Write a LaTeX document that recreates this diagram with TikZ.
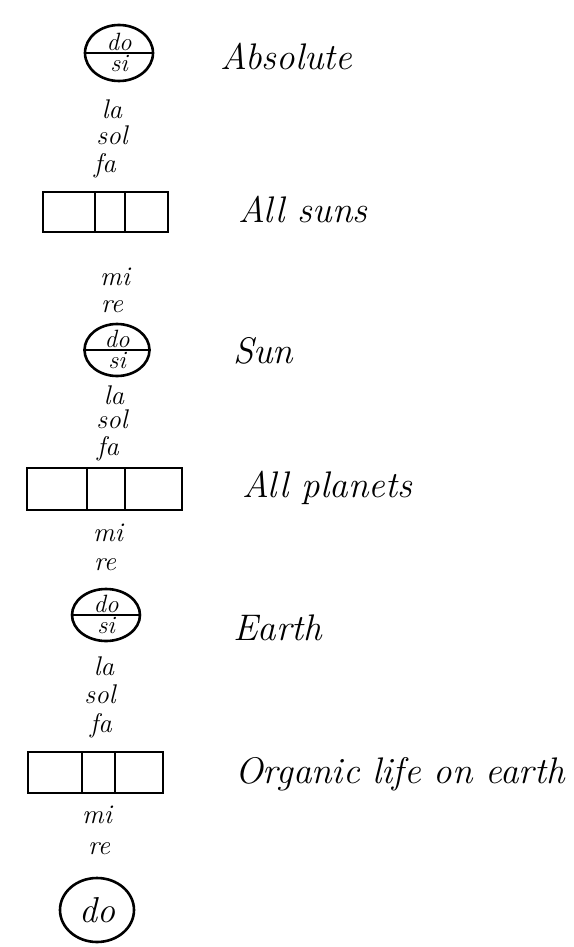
\documentclass[tikz,border=0pt]{standalone}
\usepackage{tikz}
\usetikzlibrary{shapes.geometric,positioning}

\begin{document}
\begin{tikzpicture}[x=1pt,y=-1pt,
      ring/.style={draw,ellipse,line width=2.6pt,inner sep=0pt},
      cell/.style={draw,rectangle,line width=2.6pt,inner sep=0pt,outer sep=0pt},
      syl/.style={font=\fontsize{27}{30}\selectfont\itshape,inner sep=0pt,anchor=base},
      pitch/.style={font=\fontsize{25}{27}\selectfont\itshape,inner sep=2.5pt},
      note/.style={font=\fontsize{37}{42}\selectfont\itshape,anchor=base west,inner sep=0pt}
    ]
    \useasboundingbox (0,0) rectangle (573,947);

    \node[ring,minimum width=68pt,minimum height=56pt] (absring) at (119,53) {};
    \draw[line width=2.6pt] (absring.west) -- (absring.east);
    \node[pitch,anchor=south] (absdo) at (absring.center) {do};
    \node[pitch,anchor=north] (abssi) at (absring.center) {si};

    \node[syl] (la1)  at (112,119) {la};
    \node[syl] (sol1) at (112,144) {sol};
    \node[syl] (fa1)  at (105,172) {fa};

    \node[cell,minimum width=52pt,minimum height=40pt] (suns1) at (69,212) {};
    \node[cell,minimum width=30pt,minimum height=40pt,right=0pt of suns1] (suns2) {};
    \node[cell,minimum width=43pt,minimum height=40pt,right=0pt of suns2] (suns3) {};

    \node[syl] (mi1) at (115,285) {mi};
    \node[syl] (re1) at (112,312) {re};

    \node[ring,minimum width=65pt,minimum height=52pt] (sunring) at (117,350) {};
    \draw[line width=2.6pt] (sunring.west) -- (sunring.east);
    \node[pitch,anchor=south] (sundo) at (sunring.center) {do};
    \node[pitch,anchor=north] (sunsi) at (sunring.center) {si};

    \node[syl] (la2)  at (114,404) {la};
    \node[syl] (sol2) at (112,428) {sol};
    \node[syl] (fa2)  at (108,455) {fa};

    \node[cell,minimum width=60pt,minimum height=42pt] (planets1) at (57,489) {};
    \node[cell,minimum width=38pt,minimum height=42pt,right=0pt of planets1] (planets2) {};
    \node[cell,minimum width=57pt,minimum height=42pt,right=0pt of planets2] (planets3) {};

    \node[syl] (mi2) at (108,541) {mi};
    \node[syl] (re2) at (105,570) {re};

    \node[ring,minimum width=68pt,minimum height=52pt] (earthring) at (106,615) {};
    \draw[line width=2.6pt] (earthring.west) -- (earthring.east);
    \node[pitch,anchor=south] (earthdo) at (earthring.center) {do};
    \node[pitch,anchor=north] (earthsi) at (earthring.center) {si};

    \node[syl] (la3)  at (104,675) {la};
    \node[syl] (sol3) at (100,703) {sol};
    \node[syl] (fa3)  at (101,732) {fa};

    \node[cell,minimum width=54pt,minimum height=41pt] (life1) at (55,772.5) {};
    \node[cell,minimum width=33pt,minimum height=41pt,right=0pt of life1] (life2) {};
    \node[cell,minimum width=48pt,minimum height=41pt,right=0pt of life2] (life3) {};

    \node[syl] (mi3) at (97,823) {mi};
    \node[syl] (re3) at (99,854) {re};

    \node[ring,minimum width=74pt,minimum height=64pt,font=\fontsize{36}{38}\selectfont\itshape] (lastdo) at (97,910) {do};

    \node[note] (absolute)   at (220,70)  {Absolute};
    \node[note] (allsuns)    at (238,222) {All suns};
    \node[note] (sun)        at (233,363) {Sun};
    \node[note] (allplanets) at (242,497) {All planets};
    \node[note] (earth)      at (233,640) {Earth};
    \node[note] (organic)    at (235,783) {Organic life on earth};
  \end{tikzpicture}
\end{document}
